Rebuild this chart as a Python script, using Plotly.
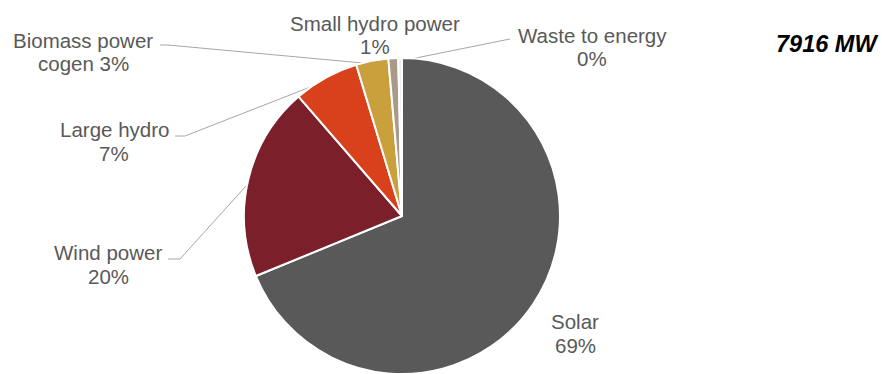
import math
import plotly.graph_objects as go

# ---- data ----
categories = ["Solar", "Wind power", "Large hydro", "Biomass power cogen", "Small hydro power", "Waste to energy"]
values_mw = [5446, 1571, 529, 261, 79, 30]
colors = ["#595959", "#7B1F2B", "#D9411C", "#C9A03B", "#A8998A", "#EDEDED"]
total_label = "7916 MW"

# label text lines (first line, second line)
label_line1 = ["Solar", "Wind power", "Large hydro", "Biomass power", "Small hydro power", "Waste to energy"]
label_line2_prefix = ["", "", "", "cogen ", "", ""]

# ---- layout constants (pixels) ----
W, H = 882, 374
PIE_CX, PIE_R = 402, 158
PIE_TOP = 58

# label block placements: (center x, line1 center y, line2 center y)
label_pos = [
    (575, 321, 345),
    (108, 252, 276),
    (114, 129, 153),
    (83, 40, 63),
    (375, 23, 46),
    (592, 35, 58),
]
# leader line: label-side points (None means no leader)
leader_label_pts = [
    None,
    [(168, 259), (180, 259)],
    [(175, 136), (185, 136)],
    [(160, 45), (168, 45)],
    None,
    [(510, 39)],
]

total = sum(values_mw)
pcts = [v / total * 100 for v in values_mw]

PIE_CY = PIE_TOP + PIE_R

fig = go.Figure()

fig.add_trace(go.Pie(
    labels=categories,
    values=values_mw,
    sort=False,
    direction="clockwise",
    rotation=0,
    marker=dict(colors=colors, line=dict(color="white", width=2)),
    textinfo="none",
    hoverinfo="label+percent+value",
    showlegend=False,
    domain=dict(
        x=[(PIE_CX - PIE_R) / W, (PIE_CX + PIE_R) / W],
        y=[(H - PIE_TOP - 2 * PIE_R) / H, (H - PIE_TOP) / H],
    ),
))

# leader lines from slice mid-angles
cum = 0.0
for i, v in enumerate(values_mw):
    mid = (cum + v / 2) / total * 2 * math.pi
    cum += v
    pts = leader_label_pts[i]
    if pts is None:
        continue
    rr = PIE_R * 0.98
    ax = PIE_CX + rr * math.sin(mid)
    ay = PIE_CY - rr * math.cos(mid)
    xs = [p[0] for p in pts] + [ax]
    ys = [p[1] for p in pts] + [ay]
    fig.add_trace(go.Scatter(
        x=xs, y=ys, mode="lines",
        line=dict(color="#A6A6A6", width=1),
        hoverinfo="skip", showlegend=False,
    ))

font = dict(family="Liberation Sans, Arial, sans-serif", size=20.5, color="#595959")
annotations = []
for i in range(len(categories)):
    cx, y1, y2 = label_pos[i]
    line2 = f"{label_line2_prefix[i]}{round(pcts[i]):d}%"
    annotations.append(dict(x=cx, y=y1, xref="x", yref="y", text=label_line1[i],
                            showarrow=False, font=font, xanchor="center", yanchor="middle"))
    annotations.append(dict(x=cx, y=y2, xref="x", yref="y", text=line2,
                            showarrow=False, font=font, xanchor="center", yanchor="middle"))

annotations.append(dict(x=880, y=44, xref="x", yref="y", text=f"<b><i>{total_label}</i></b>",
                        showarrow=False, xanchor="right", yanchor="middle",
                        font=dict(family="Liberation Sans, Arial, sans-serif", size=23.5, color="#000000")))

fig.update_layout(
    width=W, height=H,
    margin=dict(l=0, r=0, t=0, b=0),
    paper_bgcolor="white", plot_bgcolor="rgba(0,0,0,0)",
    xaxis=dict(range=[0, W], visible=False, fixedrange=True),
    yaxis=dict(range=[H, 0], visible=False, fixedrange=True),
    annotations=annotations,
)

fig.write_html("out.html")
